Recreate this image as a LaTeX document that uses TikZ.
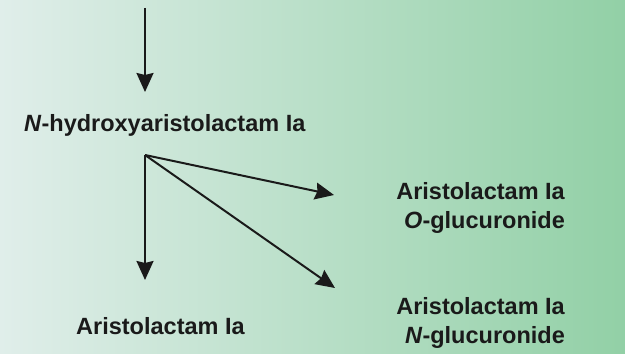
\documentclass[tikz,border=0pt]{standalone}
\usepackage{fontspec}
\setmainfont{Liberation Sans}
\usetikzlibrary{arrows.meta}
\definecolor{bgleft}{HTML}{E0EEEA}
\definecolor{bgmid}{HTML}{C0E4D0}
\definecolor{bgright}{HTML}{92D0A6}
\definecolor{ink}{HTML}{1A1A1A}
\tikzset{
  lbl/.style={inner sep=0pt, text=ink, font=\fontsize{23.5}{29}\selectfont\bfseries},
  arr/.style={draw=ink, line width=2pt, -{Stealth[length=19pt,width=17pt,inset=2pt]}},
}
\begin{document}
\begin{tikzpicture}[x=1pt,y=1pt]
\useasboundingbox (0,0) rectangle (625,354);
\shade[left color=bgleft, middle color=bgmid, right color=bgright] (0,0) rectangle (625,354);
% labels
\node[lbl, anchor=base west] (nh) at (24,222) {\textit{N}-hydroxyaristolactam Ia};
\node[lbl, anchor=base west] (al) at (76,19) {Aristolactam Ia};
\node[lbl, anchor=base east] (o1) at (565,154) {Aristolactam Ia};
\node[lbl, anchor=base east] (o2) at (565,125) {\textit{O}-glucuronide};
\node[lbl, anchor=base east] (n1) at (565,39) {Aristolactam Ia};
\node[lbl, anchor=base east] (n2) at (565,10) {\textit{N}-glucuronide};
% connector points
\coordinate (top) at (145,346);
\coordinate (intip) at (145,262);
\coordinate (br) at (145,199);
\coordinate (altip) at (145,74);
\coordinate (otip) at (334,159);
\coordinate (ntip) at (335,66);
% arrows
\draw[arr] (top) -- (intip);
\draw[arr] (br) -- (altip);
\draw[arr] (br) -- (otip);
\draw[arr] (br) -- (ntip);
\end{tikzpicture}
\end{document}
